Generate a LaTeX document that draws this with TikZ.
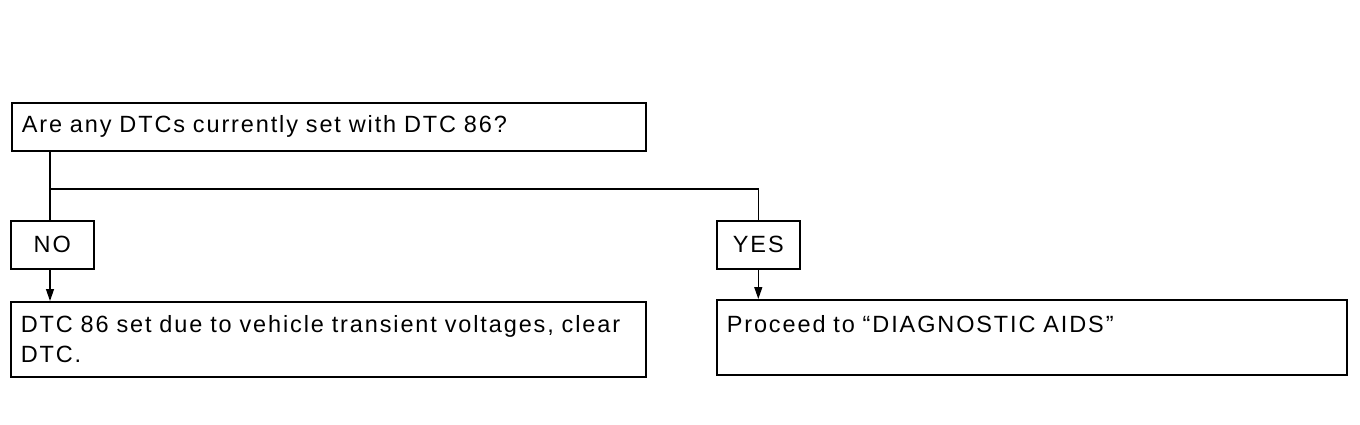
\documentclass[tikz,border=0pt]{standalone}
\usepackage{fontspec}
\setmainfont{Liberation Sans}[LetterSpace=8]
\usetikzlibrary{arrows.meta,positioning,calc}

\begin{document}
\begin{tikzpicture}[
		x=1pt,y=-1pt,
		>={Triangle[width=8pt,length=12pt]},
		every node/.style={font=\fontsize{23.5}{30}\selectfont},
		box/.style={draw, line width=1.6pt, anchor=north west, inner xsep=10pt, inner ysep=0pt, align=left},
		tag/.style={draw, line width=1.6pt, anchor=north west, minimum width=83pt, minimum height=48pt, inner sep=0pt},
		link/.style={line width=1.3pt}
		]
		\useasboundingbox (0,0) rectangle (1360,424);
		
		% =========================
		% Question
		% =========================
		\node[box, text width=614pt, minimum height=48pt] (q) at (11,102)
		{Are any DTCs currently set with DTC 86?};
		
		% =========================
		% Answers
		% =========================
		\node[tag] (no) at (10,220) {NO};
		\node[tag] (yes) at (716,220) {YES};
		
		\coordinate (split) at (50,189);
		\draw[link] (q.south -| split) -- (split) -- (split |- no.north);
		\draw[link] (split) -| (yes.north);
		
		% =========================
		% Results
		% =========================
		\node[box, text width=615pt, minimum height=75pt] (dtc) at (10,301)
		{DTC 86 set due to vehicle transient voltages, clear\\DTC.};
		\node[box, text width=610pt, text height=33pt, text depth=42pt] (aids) at (716,299)
		{Proceed to “DIAGNOSTIC AIDS”};
		
		\draw[link, ->] (no.south -| split) -- (split |- dtc.north);
		\draw[link, ->] (yes.south) -- (yes.south |- aids.north);
		
	\end{tikzpicture}
\end{document}
